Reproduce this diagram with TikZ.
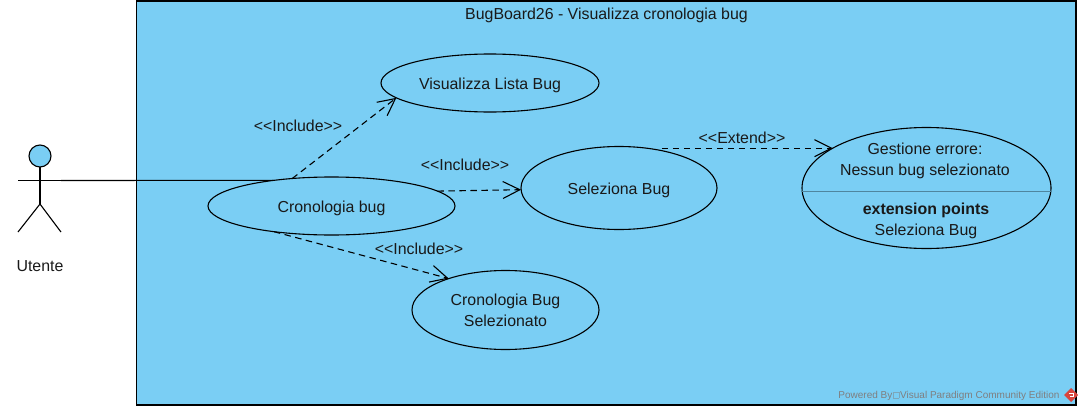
\documentclass[tikz,border=0pt]{standalone}
\usepackage{fontspec}
\setmainfont{Liberation Sans}
\usetikzlibrary{arrows.meta,shapes.geometric}
\definecolor{ucblue}{HTML}{7ACEF4}
\definecolor{wm}{HTML}{7F7F80}
\definecolor{vpred}{HTML}{D9453D}
\newcommand{\incl}{{<}{<}Include{>}{>}}
\newcommand{\lowered}[1]{\raisebox{0pt}[12.2pt][0pt]{#1}}
\newcommand{\tofu}{\kern1pt\textcolor{wm!50!ucblue}{\fboxrule=.4pt\fboxsep=0pt\raisebox{.5pt}{\fbox{\rule{0pt}{6pt}\rule{5pt}{0pt}}}}\kern1pt}
\tikzset{
  x=1pt,y=-1pt,
  usecase/.style={ellipse,draw=black,fill=ucblue,line width=1.1pt,inner sep=0pt,outer sep=0pt,align=center,font=\fontsize{15.9}{21}\selectfont,text=black!90},
  lbl/.style={inner sep=0pt,outer sep=0pt,font=\fontsize{15.9}{19}\selectfont,text=black!90},
  dep/.style={line width=1.1pt,dash pattern=on 6.5pt off 4.5pt,-{Straight Barb[length=17pt,width=17pt,line width=1.1pt]}},
  stick/.style={line width=1.1pt,draw=black},
}
\begin{document}
\begin{tikzpicture}
\useasboundingbox (0,0) rectangle (1083,412);
\node[draw=black,fill=ucblue,line width=1.2pt,minimum width=939.5pt,minimum height=404pt,inner sep=0pt,outer sep=0pt,anchor=north west] (frame) at (136.5,1) {};
\node[lbl] (title) at (606.5,15.5) {BugBoard26 - Visualizza cronologia bug};
% actor
\node[circle,draw=black,fill=ucblue,line width=1.1pt,minimum size=22pt,inner sep=0pt,outer sep=0pt] (head) at (40,156) {};
\coordinate (hip) at (40,204);
\coordinate (armL) at (18,180.5);
\coordinate (armR) at (61,180.5);
\coordinate (legL) at (18,232);
\coordinate (legR) at (61,232);
\draw[stick] (head.south) -- (hip);
\draw[stick] (armL) -- (armR);
\draw[stick] (legL) -- (hip) -- (legR);
\node[lbl] (utente) at (40,266) {Utente};
% use cases
\node[usecase,minimum width=218pt,minimum height=58pt] (vis) at (490,83) {\lowered{Visualizza Lista Bug}};
\node[usecase,minimum width=247pt,minimum height=58pt] (cron) at (331.5,206) {\lowered{Cronologia bug}};
\node[usecase,minimum width=196pt,minimum height=83pt] (sel) at (619,188) {\lowered{Seleziona Bug}};
\node[usecase,minimum width=187pt,minimum height=79pt] (cbs) at (505.5,310) {Cronologia Bug\\Selezionato};
\node[usecase,minimum width=249pt,minimum height=121pt] (ges) at (926.5,188) {};
\draw[draw=black!35!ucblue,line width=0.7pt] (ges.west |- 0,191) -- (ges.east |- 0,191);
\node[lbl] (g1) at (925,149) {Gestione errore:};
\node[lbl] (g2) at (925,171) {Nessun bug selezionato};
\node[lbl] (g3) at (926,210) {\textbf{extension points}};
\node[lbl] (g4) at (926,231) {Seleziona Bug};
% connectors
\draw[stick] (armR) -- (cron.156.5);
\draw[dep] (cron.145) -- (vis.189.2);
\draw[dep] (cron.8.9) -- (sel.181.2);
\draw[dep] (cron.204.5) -- (cbs.151.8);
\draw[dep] (sel.41.5 |- ges.157.3) -- (ges.157.3);
\node[lbl] (i1) at (298,125.5) {\incl};
\node[lbl] (i2) at (465,165) {\incl};
\node[lbl] (i3) at (419,248.5) {\incl};
\node[lbl] (e1) at (742,137.5) {{<}{<}Extend{>}{>}};
% watermark
\node[inner sep=0pt,outer sep=0pt,anchor=east,font=\fontsize{10}{11}\selectfont,text=wm] (wmark) at (1059.5,396) {Powered By\tofu Visual Paradigm Community Edition};
\fill[vpred] (1071,388) -- (1078,395) -- (1071,402) -- (1064,395) -- cycle;
\draw[white,line width=0.8pt] (1069,393) -- (1073,393) -- (1073,396) -- (1070,396);
\end{tikzpicture}
\end{document}
